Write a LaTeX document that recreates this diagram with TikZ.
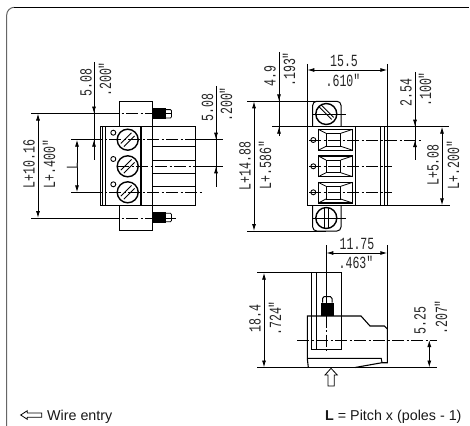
\documentclass[tikz,border=0pt]{standalone}
\usepackage{fontspec}
\setmainfont{Liberation Sans}
\newfontfamily\dimfont[FakeStretch=0.68]{Liberation Mono}
\usetikzlibrary{arrows.meta}
\tikzset{
  obj/.style={line width=1pt,black},
  thick obj/.style={line width=1.5pt,black},
  ext/.style={line width=0.9pt,black},
  dimln/.style={line width=0.9pt,black,{Latex[length=7pt,width=4pt]}-{Latex[length=7pt,width=4pt]}},
  arrowto/.style={line width=0.9pt,black,-{Latex[length=7pt,width=4pt]}},
  centerln/.style={line width=0.9pt,black,dash pattern=on 12pt off 2.5pt on 2pt off 2.5pt},
  dimtxt/.style={font=\dimfont\fontsize{17}{18}\selectfont,inner sep=0pt,text=black!85},
  vert/.style={dimtxt,rotate=90},
  legend/.style={font=\fontsize{14.3}{15}\selectfont,inner sep=0pt,anchor=base west,text=black!90},
}
\begin{document}
\begin{tikzpicture}[x=1pt,y=-1pt]
\useasboundingbox (0,0) rectangle (470,425);
\fill[white] (0,0) rectangle (470,425);
\draw[black!60,line width=1pt] (6.7,432) -- (6.7,15) arc[start angle=180,end angle=270,radius=7.7];
\draw[black,line width=1pt] (14.4,7.3) -- (469,7.3);

% ---------- left view ----------
\draw[obj] (119.3,126.7) -- (119.3,101.3) -- (152.7,101.3) -- (152.7,230.7) -- (119.3,230.7) -- (119.3,205.3);
\draw[obj] (100.7,126.7) rectangle (195.7,205.3);
\draw[thick obj] (102.5,126.7) -- (102.5,205.3);
\draw[obj] (105.7,126.7) -- (105.7,205.3);
\draw[thick obj] (141,126.7) -- (141,205.3);
\foreach \y in {146,160,173,186}{\draw[obj] (152.7,\y) -- (195.7,\y);}
% threads
\foreach \yc in {113.8,217.5}{
  \fill[black] (152.7,\yc-5.5) rectangle (165.7,\yc+5.5);
  \draw[obj,line width=0.8pt] (165.7,\yc-4.2) -- (170.5,\yc-4.2) -- (171.5,\yc-3) -- (171.5,\yc+3) -- (170.5,\yc+4.2) -- (165.7,\yc+4.2);
}
% screws
\foreach \yc/\ys in {139.7/132.7,166.3/159,192.3/184.3}{
  \draw[line width=1.4pt,fill=white] (127.7,\yc) circle (10.5);
  \draw[obj,line width=0.9pt] (113.3,\ys) circle (2.5);
  \draw[line width=0.9pt] (120.8,\yc+3.8) -- (131.5,\yc-6.9);
  \draw[line width=0.9pt] (123.9,\yc+6.9) -- (134.6,\yc-3.8);
}
\draw[centerln] (71,139.7) -- (205,139.7);
\draw[centerln] (117,166.3) -- (223,166.3);
\draw[centerln] (71,192.3) -- (203,192.3);
\draw[centerln] (31,113.5) -- (172,113.5);
\draw[centerln] (31,218) -- (176,218);
\draw[ext] (31,113.5) -- (119.3,113.5);
\draw[ext] (31,218) -- (119.3,218);
\draw[ext] (71,139.7) -- (101,139.7);
\draw[ext] (71,192.3) -- (101,192.3);
\draw[ext] (195.7,139.7) -- (223,139.7);
\draw[ext] (195.7,166.3) -- (223,166.3);
\draw[dimln] (38,113.5) -- (38,218);
\draw[dimln] (77,139.7) -- (77,192.3);
\draw[ext] (94,62) -- (94,160);
\draw[arrowto] (94,100) -- (94,113.5);
\draw[arrowto] (94,153) -- (94,139.7);
\draw[ext] (216,86) -- (216,187);
\draw[arrowto] (216,126) -- (216,139.7);
\draw[arrowto] (216,180) -- (216,166.3);
\node[vert] (t1) at (29,164) {L+10.16};
\node[vert] (t2) at (49,164) {L+.400"};
\node[vert] (t3) at (72.5,166) {L};
\node[vert,anchor=west] (t4) at (86,97) {5.08};
\node[vert,anchor=west] (t5) at (105,97) {.200"};
\node[vert,anchor=west] (t6) at (207.5,122) {5.08};
\node[vert,anchor=west] (t7) at (226,122) {.200"};

% ---------- front view ----------
\draw[obj,rounded corners=4pt] (312.7,126.7) -- (312.7,101.3) -- (341,101.3) -- (341,126.7);
\draw[obj,rounded corners=4pt] (312.7,205.3) -- (312.7,231) -- (341,231) -- (341,205.3);
\draw[line width=1.3pt] (307.3,126.7) rectangle (387.3,205.3);
\draw[obj] (355.7,126.7) -- (355.7,205.3);
\draw[thick obj] (380.7,126.7) -- (380.7,205.3);
\draw[obj] (384.5,126.7) -- (384.5,205.3);
% screws
\draw[line width=1.4pt] (326.3,114) circle (10.5);
\draw[line width=0.9pt] (319.3,107) -- (331.7,119.4);
\draw[line width=0.9pt] (321.3,105) -- (333.7,117.4);
\draw[line width=1.4pt] (326.3,218) circle (10.5);
\draw[line width=0.9pt] (324.3,208) -- (324.3,228);
\draw[line width=0.9pt] (328.3,208) -- (328.3,228);
\draw[ext] (312,114) -- (346,114);
\draw[ext] (312,218) -- (346,218);
% cells
\foreach \ya/\yb in {129.3/150.3,156/176.7,182.3/203}{
  \draw[line width=1.1pt] (318.3,\ya) rectangle (352.7,\yb);
  \draw[obj,line width=0.8pt] (326,\ya+4) rectangle (340.7,\yb-4);
  \draw[obj,line width=0.8pt] (318.3,\ya) -- (326,\ya+4) (352.7,\ya) -- (340.7,\ya+4)
     (318.3,\yb) -- (326,\yb-4) (352.7,\yb) -- (340.7,\yb-4);
}
\foreach \yc in {140,166.3,192.3}{\draw[obj,line width=0.9pt] (313.3,\yc) circle (2.5);}
\draw[centerln] (309,140) -- (422,140);
\draw[centerln] (309,166.3) -- (392,166.3);
\draw[centerln] (309,192.3) -- (392,192.3);
% dims
\draw[ext] (307.3,64) -- (307.3,126.7);
\draw[ext] (387.3,64) -- (387.3,126.7);
\draw[dimln] (307.3,70) -- (387.3,70);
\draw[ext] (247,101.3) -- (326,101.3);
\draw[ext] (247,231) -- (326,231);
\draw[line width=0.9pt] (272,126.7) -- (449,126.7);
\draw[ext] (387.3,205.3) -- (450,205.3);
\draw[dimln] (254,101.3) -- (254,231);
\draw[ext] (279,52) -- (279,136);
\draw[arrowto] (279,88) -- (279,101.3);
\draw[arrowto] (279,136) -- (279,126.7);
\draw[ext] (415,72) -- (415,160);
\draw[arrowto] (415,113) -- (415,126.7);
\draw[arrowto] (415,153) -- (415,140);
\draw[dimln] (442,126.7) -- (442,205.3);
\node[dimtxt] (t8) at (344,61) {15.5};
\node[dimtxt] (t9) at (343,80) {.610"};
\node[vert] (t10) at (245,166) {L+14.88};
\node[vert] (t11) at (265,165) {L+.586"};
\node[vert,anchor=west] (t12) at (270,87) {4.9};
\node[vert,anchor=west] (t13) at (289,87) {.193"};
\node[vert,anchor=west] (t14) at (406,107) {2.54};
\node[vert,anchor=west] (t15) at (425,107) {.100"};
\node[vert] (t16) at (433,165) {L+5.08};
\node[vert] (t17) at (453,165) {L+.200"};

% ---------- side view ----------
\draw[obj] (311,316) -- (311,272.7) -- (341.7,272.7) -- (341.7,349.3) -- (311,349.3) -- (311,316);
\draw[obj] (316.3,272.7) -- (316.3,349.3);
\draw[obj,line width=1.1pt] (308.3,367.5) -- (307.3,358.3) -- (307.3,316) -- (361,316) -- (370,326) -- (384.3,326) -- (387.3,329) -- (387.3,362.7) -- (382,362.7) -- (355,367.5);
\draw[obj] (307.3,358.3) -- (381.2,358.3) -- (382,362.7);
\fill[black] (320.7,302.7) rectangle (334,316);
\draw[obj] (322.5,302.7) -- (322.5,298.5) -- (324,296.7) -- (330.5,296.7) -- (332,298.5) -- (332,302.7);
\draw[ext] (326.3,245) -- (326.3,296.7);
\draw[ext] (387.3,245) -- (387.3,329);
\draw[dimln] (326.3,253) -- (387.3,253);
\draw[centerln] (326.3,296.7) -- (326.3,353);
\draw[ext] (257,367.5) -- (437,367.5);
\draw[ext] (257,272.7) -- (341.7,272.7);
\draw[dimln] (264,272.7) -- (264,367.5);
\draw[centerln] (297,340) -- (437,340);
\draw[dimln] (429.3,340) -- (429.3,367.5);
\node[dimtxt] (t18) at (357,244) {11.75};
\node[dimtxt] (t19) at (356,262) {.463"};
\node[vert,anchor=west] (t20) at (255,333) {18.4};
\node[vert,anchor=west] (t21) at (275,336) {.724"};
\node[vert,anchor=west] (t22) at (420,335) {5.25};
\node[vert,anchor=west] (t23) at (441,335) {.207"};
% entry arrow
\draw[line width=0.8pt,black] (331,368.3) -- (337.3,375) -- (334.3,375) -- (334.3,386) -- (328,386) -- (328,375) -- (325,375) -- cycle;

% ---------- legend ----------
\draw[line width=0.8pt,black] (20.7,415) -- (27.3,410.7) -- (27.3,413) -- (41.7,413) -- (41.7,417.3) -- (27.3,417.3) -- (27.3,419.3) -- cycle;
\node[legend] (w) at (47,420) {Wire entry};
\node[legend] (p) at (325,420) {\textbf{L} = Pitch x (poles - 1)};
\end{tikzpicture}
\end{document}
